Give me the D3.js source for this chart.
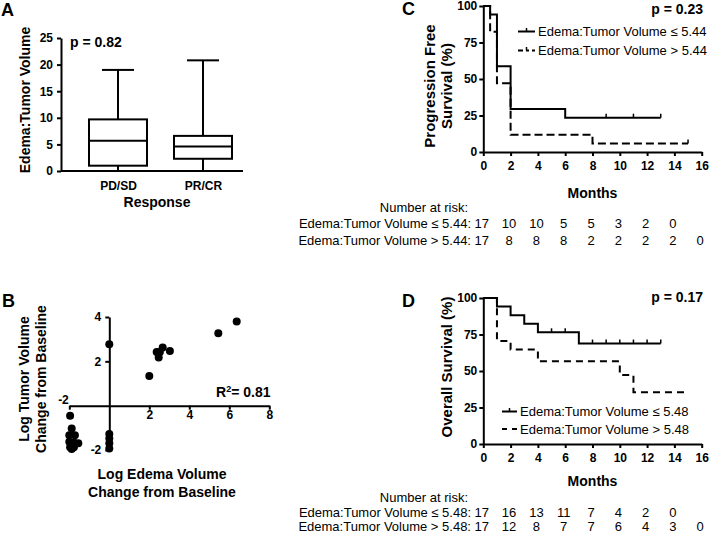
<!DOCTYPE html>
<html><head><meta charset="utf-8">
<script src="https://cdn.jsdelivr.net/npm/d3@7"></script>
<style>
body{margin:0;background:#fff}
svg{display:block}
text{font-family:"Liberation Sans",Arial,Helvetica,sans-serif;fill:#000}
</style>
</head><body>
<svg id="chart" width="709" height="534"></svg>
<script>
// ---------- Panel A: box plot ----------
const boxCategories = ["PD/SD", "PR/CR"];
const boxMin = [0, 0];
const boxQ1 = [1.0, 2.3];
const boxMedian = [5.7, 4.6];
const boxQ3 = [9.7, 6.6];
const boxMax = [19.0, 20.8];
const boxTicks = [0, 5, 10, 15, 20, 25];

// ---------- Panel B: scatter ----------
const scatterX = [0, 2.0, 2.37, 2.47, 2.53, 2.67, 3.03, 5.45, 6.37,
  -1.96, -1.88, -2.0, -1.72, -2.0, -1.77, -1.55, -1.96, -1.77, -1.88,
  0, 0, 0, 0];
const scatterY = [2.77, 1.34, 2.42, 2.17, 2.42, 2.62, 2.47, 3.27, 3.8,
  -0.46, -1.03, -1.33, -1.33, -1.63, -1.66, -1.70, -1.88, -1.88, -1.96,
  -1.28, -1.48, -1.69, -1.93];
const scatterXTicks = [-2, 2, 4, 6, 8];
const scatterYTicks = [-2, 2, 4];

// ---------- Panel C: progression free survival ----------
const monthTicks = [0, 2, 4, 6, 8, 10, 12, 14, 16];
const survTicks = [0, 25, 50, 75, 100];
const pfsLowTime = [0, 0.5, 1, 2, 6, 13];
const pfsLowSurv = [100, 94.1, 58.8, 29.4, 23.5, 23.5];
const pfsLowCensor = [9, 11, 13];
const pfsHighTime = [0, 0.5, 1, 2, 8, 15];
const pfsHighSurv = [100, 82.4, 47.1, 11.8, 5.9, 5.9];
const pfsHighCensor = [15];
const pfsRiskLow = [17, 10, 10, 5, 5, 3, 2, 0];
const pfsRiskHigh = [17, 8, 8, 8, 2, 2, 2, 2, 0];
const pfsLabelLow = "Edema:Tumor Volume \u2264 5.44";
const pfsLabelHigh = "Edema:Tumor Volume > 5.44";

// ---------- Panel D: overall survival ----------
const osLowTime = [0, 1, 2, 3, 4, 7, 13];
const osLowSurv = [100, 94.1, 88.2, 82.4, 76.5, 68.8, 68.8];
const osLowCensor = [5, 6, 8, 9, 10, 11, 12, 13];
const osHighTime = [0, 1, 2, 4, 10, 11, 15];
const osHighSurv = [100, 70.6, 64.7, 56.6, 47.2, 35.4, 35.4];
const osHighCensor = [];
const osRiskLow = [17, 16, 13, 11, 7, 4, 2, 0];
const osRiskHigh = [17, 12, 8, 7, 7, 6, 4, 3, 0];
const osLabelLow = "Edema:Tumor Volume \u2264 5.48";
const osLabelHigh = "Edema:Tumor Volume > 5.48";

const svg = d3.select("#chart");
const LW = 2;
const fmt = d => String(d);

function styleAxis(g, size) {
  g.attr("font-family", null).attr("font-size", null);
  g.selectAll("path.domain").attr("stroke", "#000").attr("stroke-width", LW);
  g.selectAll(".tick line").attr("stroke", "#000").attr("stroke-width", LW);
  g.selectAll(".tick text").attr("font-size", size || 12).attr("font-weight", "bold").attr("fill", "#000");
}
function label(x, y, txt, size, bold, anchor, rot) {
  const t = svg.append("text").attr("font-size", size).attr("font-weight", bold ? "bold" : "normal")
    .attr("text-anchor", anchor || "start").text(txt);
  if (rot) t.attr("transform", `translate(${x},${y}) rotate(${rot})`);
  else t.attr("x", x).attr("y", y);
  return t;
}

// ================= Panel A =================
{
  const y = d3.scaleLinear().domain([0, 25]).range([171, 38]);
  const x = d3.scalePoint().domain(boxCategories).range([118, 203]);
  const bw = 58, cap = 32;
  const gy = svg.append("g").attr("transform", "translate(61,0)")
    .call(d3.axisLeft(y).tickValues(boxTicks).tickFormat(fmt).tickSize(4).tickPadding(4).tickSizeOuter(0));
  styleAxis(gy);
  svg.append("line").attr("x1", 61).attr("x2", 243).attr("y1", y(0)).attr("y2", y(0))
    .attr("stroke", "#000").attr("stroke-width", LW);
  const gx = svg.append("g").attr("transform", `translate(0,${y(0)})`)
    .call(d3.axisBottom(x).tickSize(0).tickPadding(10.5));
  gx.select("path.domain").remove();
  styleAxis(gx, 12);

  const g = svg.append("g").attr("stroke", "#000").attr("stroke-width", LW).attr("fill", "none");
  boxCategories.forEach((c, i) => {
    const cx = x(c);
    g.append("line").attr("x1", cx).attr("x2", cx).attr("y1", y(boxMax[i])).attr("y2", y(boxQ3[i]));
    g.append("line").attr("x1", cx).attr("x2", cx).attr("y1", y(boxQ1[i])).attr("y2", y(boxMin[i]));
    g.append("line").attr("x1", cx - cap / 2).attr("x2", cx + cap / 2).attr("y1", y(boxMax[i])).attr("y2", y(boxMax[i]));
    g.append("rect").attr("x", cx - bw / 2).attr("width", bw).attr("y", y(boxQ3[i]))
      .attr("height", y(boxQ1[i]) - y(boxQ3[i])).attr("fill", "#fff");
    g.append("line").attr("x1", cx - bw / 2).attr("x2", cx + bw / 2).attr("y1", y(boxMedian[i])).attr("y2", y(boxMedian[i]));
  });
  label(1, 16, "A", 18, true);
  label(70, 47, "p = 0.82", 14, true);
  label(30, 100, "Edema:Tumor Volume", 14, true, "middle", -90);
  label(157, 207, "Response", 14, true, "middle");
}

// ================= Panel B =================
{
  const x = d3.scaleLinear().domain([-2, 8]).range([69.3, 269.3]);
  const y = d3.scaleLinear().domain([-2, 4]).range([450, 317]);
  const gx = svg.append("g").attr("transform", `translate(0,${y(0)})`)
    .call(d3.axisBottom(x).tickValues(scatterXTicks).tickFormat(fmt).tickSize(4).tickPadding(1).tickSizeOuter(0));
  styleAxis(gx);
  gx.selectAll(".tick").filter(d => d === -2).select("text")
    .attr("text-anchor", "end").attr("x", -1).attr("y", -10).attr("dy", "0.71em");
  const gy = svg.append("g").attr("transform", `translate(${x(0)},0)`)
    .call(d3.axisLeft(y).tickValues(scatterYTicks).tickFormat(fmt).tickSize(4).tickPadding(4).tickSizeOuter(0));
  styleAxis(gy);
  svg.append("g").selectAll("circle").data(scatterX).join("circle")
    .attr("cx", d => x(d)).attr("cy", (d, i) => y(scatterY[i])).attr("r", 4).attr("fill", "#000");
  label(2, 307, "B", 18, true);
  const r2 = label(216, 397, "", 14, true);
  r2.append("tspan").text("R");
  r2.append("tspan").text("2").attr("font-size", 9).attr("dy", -5);
  r2.append("tspan").text("= 0.81").attr("dy", 5);
  label(29, 379, "Log Tumor Volume", 14, true, "middle", -90);
  label(46, 379, "Change from Baseline", 14, true, "middle", -90);
  label(162, 479, "Log Edema Volume", 14, true, "middle");
  label(162, 497, "Change from Baseline", 14, true, "middle");
}

// ================= KM helper =================
function kmPanel(opt) {
  const x = d3.scaleLinear().domain([0, 16]).range([483.3, 701.7]);
  const y = d3.scaleLinear().domain([0, 100]).range([opt.y0, opt.y0 - 146]);
  const gx = svg.append("g").attr("transform", `translate(0,${opt.y0})`)
    .call(d3.axisBottom(x).tickValues(monthTicks).tickFormat(fmt).tickSize(4).tickPadding(5).tickSizeOuter(0));
  styleAxis(gx);
  const gy = svg.append("g").attr("transform", `translate(${x(0)},0)`)
    .call(d3.axisLeft(y).tickValues(survTicks).tickFormat(fmt).tickSize(4).tickPadding(2).tickSizeOuter(0));
  styleAxis(gy);
  const line = d3.line().x(d => x(d[0])).y(d => y(d[1])).curve(d3.curveStepAfter);
  const draw = (times, surv, censor, dash) => {
    const pts = times.map((t, i) => [t, surv[i]]);
    svg.append("path").attr("d", line(pts)).attr("fill", "none").attr("stroke", "#000")
      .attr("stroke-width", LW).attr("stroke-dasharray", dash);
    censor.forEach(c => {
      let s = surv[0];
      times.forEach((t, i) => { if (t <= c) s = surv[i]; });
      svg.append("line").attr("x1", x(c)).attr("x2", x(c)).attr("y1", y(s) - 4).attr("y2", y(s))
        .attr("stroke", "#000").attr("stroke-width", 1.5);
    });
  };
  draw(opt.lowT, opt.lowS, opt.lowC, null);
  draw(opt.highT, opt.highS, opt.highC, opt.dash);

  // legend
  const lg = opt.legend;
  svg.append("line").attr("x1", lg.x).attr("x2", lg.x + lg.w).attr("y1", lg.y1).attr("y2", lg.y1)
    .attr("stroke", "#000").attr("stroke-width", LW);
  svg.append("line").attr("x1", lg.x + lg.w / 2).attr("x2", lg.x + lg.w / 2).attr("y1", lg.y1 - 3.5).attr("y2", lg.y1)
    .attr("stroke", "#000").attr("stroke-width", 1.5);
  svg.append("line").attr("x1", lg.x).attr("x2", lg.x + lg.w).attr("y1", lg.y2).attr("y2", lg.y2)
    .attr("stroke", "#000").attr("stroke-width", LW).attr("stroke-dasharray", lg.dash);
  if (lg.tick2) svg.append("line").attr("x1", lg.x + lg.w / 2).attr("x2", lg.x + lg.w / 2).attr("y1", lg.y2 - 3.5).attr("y2", lg.y2)
    .attr("stroke", "#000").attr("stroke-width", 1.5);
  label(lg.x + lg.w + 3, lg.y1 + 4.5, opt.labelLow, 13, false);
  label(lg.x + lg.w + 3, lg.y2 + 4.5, opt.labelHigh, 13, false);

  // labels
  label(opt.letterX, opt.letterY, opt.letter, 18, true);
  label(703, opt.pY, opt.p, 14, true, "end");
  opt.yTitle.forEach(t => label(t[0], t[1], t[2], 15, true, "middle", -90));
  label(x(8), opt.monthsY, "Months", 14, true, "middle");

  // number at risk
  label(468, opt.riskY[0], "Number at risk:", 13, false, "end");
  label(471, opt.riskY[1], opt.labelLow + ":", 13, false, "end");
  label(471, opt.riskY[2], opt.labelHigh + ":", 13, false, "end");
  [opt.riskLow, opt.riskHigh].forEach((arr, r) => {
    svg.append("g").selectAll("text").data(arr).join("text")
      .attr("x", (d, i) => x(monthTicks[i]) - 1.5).attr("y", opt.riskY[r + 1])
      .attr("text-anchor", "middle").attr("font-size", 13).text(d => d);
  });
}

kmPanel({
  y0: 152, lowT: pfsLowTime, lowS: pfsLowSurv, lowC: pfsLowCensor,
  highT: pfsHighTime, highS: pfsHighSurv, highC: pfsHighCensor, dash: "8,4",
  legend: { x: 518, w: 17, y1: 31.5, y2: 50.5, dash: "5,3,3,3,5", tick2: true },
  labelLow: pfsLabelLow, labelHigh: pfsLabelHigh,
  letter: "C", letterX: 402, letterY: 15, p: "p = 0.23", pY: 14,
  yTitle: [[435, 86, "Progression Free"], [452, 86, "Survival (%)"]],
  monthsY: 198, riskY: [212, 228, 245], riskLow: pfsRiskLow, riskHigh: pfsRiskHigh
});

kmPanel({
  y0: 444, lowT: osLowTime, lowS: osLowSurv, lowC: osLowCensor,
  highT: osHighTime, highS: osHighSurv, highC: osHighCensor, dash: "7,5",
  legend: { x: 502, w: 15, y1: 411.5, y2: 429, dash: "5,5", tick2: false },
  labelLow: osLabelLow, labelHigh: osLabelHigh,
  letter: "D", letterX: 402, letterY: 307, p: "p = 0.17", pY: 302,
  yTitle: [[452, 367, "Overall Survival (%)"]],
  monthsY: 486, riskY: [502, 517, 531], riskLow: osRiskLow, riskHigh: osRiskHigh
});
</script>
</body></html>
